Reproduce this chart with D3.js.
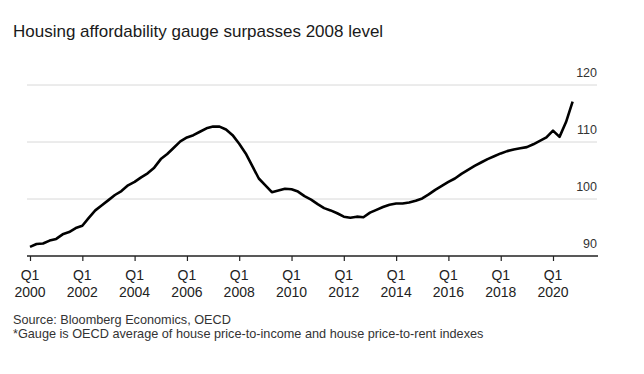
<!DOCTYPE html>
<html>
<head>
<meta charset="utf-8">
<script src="https://cdn.jsdelivr.net/npm/d3@7"></script>
<style>
  body { margin: 0; background: #fff; }
  svg { display: block; font-family: "Liberation Sans", Arial, sans-serif; }
</style>
</head>
<body>
<div id="chart"></div>
<script>
// quarterly gauge values, Q1 2000 .. Q4 2020
var startYear = 2000;
var gaugeValues = [
  91.6, 92.1, 92.2, 92.7,
  93.0, 93.8, 94.2, 94.9,
  95.3, 96.7, 98.0, 98.9,
  99.8, 100.7, 101.4, 102.4,
  103.0, 103.8, 104.5, 105.5,
  107.0, 107.9, 109.0, 110.1,
  110.8, 111.2, 111.8, 112.4,
  112.7, 112.7, 112.2, 111.2,
  109.7, 108.0, 105.8, 103.6,
  102.4, 101.2, 101.5, 101.8,
  101.7, 101.3, 100.5, 99.9,
  99.1, 98.4, 98.0, 97.5,
  96.9, 96.7, 96.9, 96.8,
  97.6, 98.1, 98.6, 99.0,
  99.2, 99.2, 99.4, 99.7,
  100.1, 100.8, 101.6, 102.3,
  103.0, 103.6, 104.4, 105.1,
  105.8, 106.4, 107.0, 107.5,
  108.0, 108.4, 108.7, 108.9,
  109.1, 109.6, 110.2, 110.8,
  112.0, 110.9, 113.5, 117.1
];
var tickYears = [2000, 2002, 2004, 2006, 2008, 2010, 2012, 2014, 2016, 2018, 2020];
var yTicks = [90, 100, 110, 120];

var titleText = "Housing affordability gauge surpasses 2008 level";
var sourceText = "Source: Bloomberg Economics, OECD";
var noteText = "*Gauge is OECD average of house price-to-income and house price-to-rent indexes";

var width = 644, height = 374;
var plotLeft = 27, plotRight = 597;

var data = gaugeValues.map(function(v, i) {
  return { date: new Date(startYear + Math.floor(i / 4), (i % 4) * 3, 1), value: v };
});

var x = d3.scaleTime()
  .domain([new Date(2000, 0, 1), new Date(2020, 0, 1)])
  .range([30, 553]);
var y = d3.scaleLinear().domain([90, 120]).range([256, 85]);

var svg = d3.select("#chart").append("svg")
  .attr("width", width)
  .attr("height", height);

svg.append("rect").attr("width", width).attr("height", height).attr("fill", "#fff");

// title
svg.append("text")
  .attr("x", 13).attr("y", 37)
  .attr("font-size", 17)
  .attr("fill", "#1a1a1a")
  .text(titleText);

// gridlines
svg.append("g").selectAll("line")
  .data(yTicks.filter(function(d) { return d > 90; }))
  .enter().append("line")
  .attr("x1", plotLeft).attr("x2", plotRight)
  .attr("y1", function(d) { return y(d); })
  .attr("y2", function(d) { return y(d); })
  .attr("stroke", "#d8d8d8")
  .attr("stroke-width", 1);

// y labels, right side above gridlines
svg.append("g").selectAll("text")
  .data(yTicks)
  .enter().append("text")
  .attr("x", plotRight)
  .attr("y", function(d) { return y(d) - 8; })
  .attr("text-anchor", "end")
  .attr("font-size", 12.5)
  .attr("fill", "#333")
  .text(function(d) { return d; });

// x axis
var xAxis = svg.append("g")
  .attr("transform", "translate(0," + y(90) + ")")
  .call(d3.axisBottom(x)
    .tickValues(tickYears.map(function(yr) { return new Date(yr, 0, 1); }))
    .tickSize(5)
    .tickFormat(""));
xAxis.select(".domain").remove();
xAxis.selectAll(".tick line").attr("stroke", "#222").attr("stroke-width", 1.2);
xAxis.append("line")
  .attr("x1", plotLeft).attr("x2", plotRight + 1)
  .attr("stroke", "#222").attr("stroke-width", 1.5);

var labels = svg.append("g").selectAll("text")
  .data(tickYears)
  .enter().append("text")
  .attr("x", function(d) { return x(new Date(d, 0, 1)); })
  .attr("text-anchor", "middle")
  .attr("font-size", 14)
  .attr("fill", "#222");
labels.append("tspan").attr("y", 280).attr("x", function(d) { return x(new Date(d, 0, 1)); }).text("Q1");
labels.append("tspan").attr("y", 297).attr("x", function(d) { return x(new Date(d, 0, 1)); }).text(function(d) { return d; });

// the line
var valueline = d3.line()
  .x(function(d) { return x(d.date); })
  .y(function(d) { return y(d.value); });

svg.append("path")
  .datum(data)
  .attr("fill", "none")
  .attr("stroke", "#000")
  .attr("stroke-width", 2.6)
  .attr("stroke-linejoin", "round")
  .attr("stroke-linecap", "butt")
  .attr("d", valueline);

// footer
svg.append("text")
  .attr("x", 13).attr("y", 324)
  .attr("font-size", 12.7)
  .attr("fill", "#333")
  .text(sourceText);
svg.append("text")
  .attr("x", 13).attr("y", 338)
  .attr("font-size", 12.7)
  .attr("fill", "#333")
  .text(noteText);
</script>
</body>
</html>
